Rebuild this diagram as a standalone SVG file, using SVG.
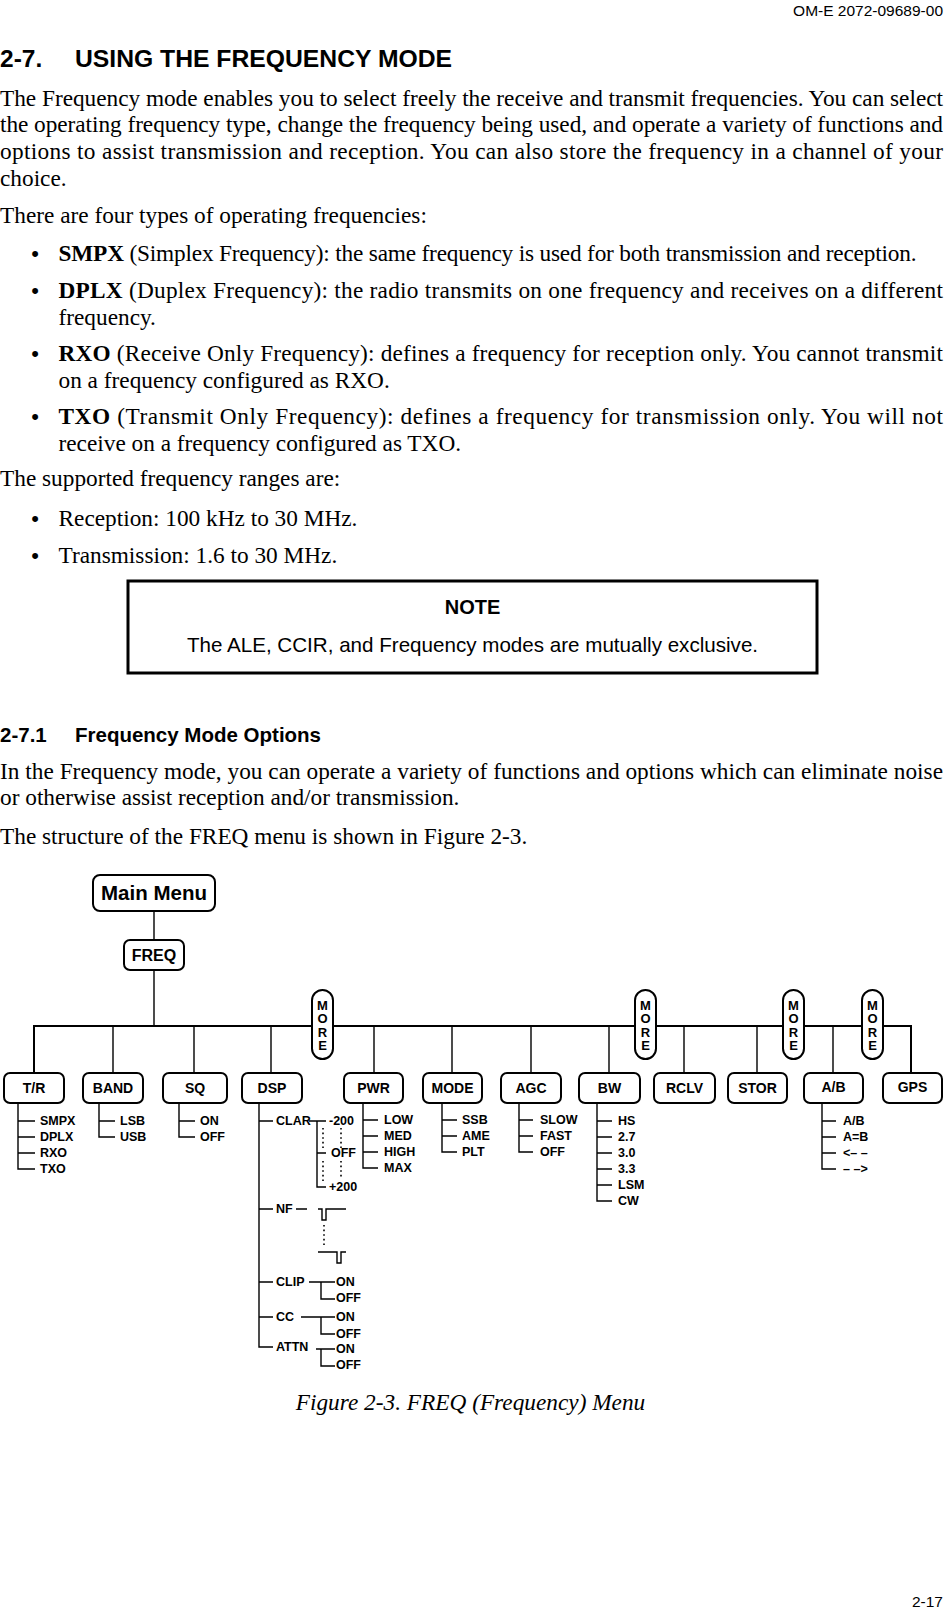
<svg xmlns="http://www.w3.org/2000/svg" width="945" height="1611" viewBox="0 0 945 1611">
<style>
.b{font-family:"Liberation Serif","Times New Roman",serif;font-size:23.3px;fill:#000}
.bul{font-family:"Liberation Sans",Arial,sans-serif;font-size:22px;text-anchor:middle;fill:#000}
.h{font-family:"Liberation Sans",Arial,sans-serif;fill:#000}
.bx{fill:#fff;stroke:#000;stroke-width:2}
.ln{fill:none;stroke:#000;stroke-width:1.4}
.bus{fill:none;stroke:#000;stroke-width:2}
.dot{fill:none;stroke:#000;stroke-width:1.6;stroke-dasharray:1.6 3}
.t{font-family:"Liberation Sans",Arial,sans-serif;font-weight:bold;font-size:14px;text-anchor:middle}
.o{font-family:"Liberation Sans",Arial,sans-serif;font-weight:bold;font-size:12.5px}
.m{font-family:"Liberation Sans",Arial,sans-serif;font-weight:bold;font-size:13px;text-anchor:middle}
</style>
<rect width="945" height="1611" fill="#fff"/>

<g id="page-text">
<text class="h" x="943" y="16" font-size="15.5" text-anchor="end">OM-E 2072-09689-00</text>
<text class="h" x="0" y="67" font-size="24.5" font-weight="bold">2-7.</text>
<text class="h" x="75" y="67" font-size="24.5" font-weight="bold" textLength="377" lengthAdjust="spacingAndGlyphs">USING THE FREQUENCY MODE</text>
<text class="b" x="0" y="105.5" textLength="943" lengthAdjust="spacing">The Frequency mode enables you to select freely the receive and transmit frequencies. You can select</text>
<text class="b" x="0" y="132" textLength="943" lengthAdjust="spacing">the operating frequency type, change the frequency being used, and operate a variety of functions and</text>
<text class="b" x="0" y="159" textLength="943" lengthAdjust="spacing">options to assist transmission and reception. You can also store the frequency in a channel of your</text>
<text class="b" x="0" y="185.5">choice.</text>
<text class="b" x="0" y="223">There are four types of operating frequencies:</text>
<text class="bul" x="35" y="261">•</text>
<text class="b" x="58.5" y="261" textLength="858" lengthAdjust="spacing"><tspan font-weight="bold">SMPX</tspan> (Simplex Frequency): the same frequency is used for both transmission and reception.</text>
<text class="bul" x="35" y="298">•</text>
<text class="b" x="58.5" y="298" textLength="884.5" lengthAdjust="spacing"><tspan font-weight="bold">DPLX</tspan> (Duplex Frequency): the radio transmits on one frequency and receives on a different</text>
<text class="b" x="58.5" y="324.5">frequency.</text>
<text class="bul" x="35" y="361">•</text>
<text class="b" x="58.5" y="361" textLength="884.5" lengthAdjust="spacing"><tspan font-weight="bold">RXO</tspan> (Receive Only Frequency): defines a frequency for reception only. You cannot transmit</text>
<text class="b" x="58.5" y="388">on a frequency configured as RXO.</text>
<text class="bul" x="35" y="424">•</text>
<text class="b" x="58.5" y="424" textLength="884.5" lengthAdjust="spacing"><tspan font-weight="bold">TXO</tspan> (Transmit Only Frequency): defines a frequency for transmission only. You will not</text>
<text class="b" x="58.5" y="451">receive on a frequency configured as TXO.</text>
<text class="b" x="0" y="485.5">The supported frequency ranges are:</text>
<text class="bul" x="35" y="526">•</text>
<text class="b" x="58.5" y="526">Reception: 100 kHz to 30 MHz.</text>
<text class="bul" x="35" y="563">•</text>
<text class="b" x="58.5" y="563">Transmission: 1.6 to 30 MHz.</text>
</g>

<g id="note">
<rect x="128" y="581" width="689" height="92" fill="#fff" stroke="#000" stroke-width="3"/>
<text class="h" x="472.5" y="614" font-size="20" font-weight="bold" text-anchor="middle">NOTE</text>
<text class="h" x="472.5" y="652" font-size="20.6" text-anchor="middle">The ALE, CCIR, and Frequency modes are mutually exclusive.</text>
</g>

<g id="section-text">
<text class="h" x="0" y="742" font-size="20.5" font-weight="bold">2-7.1</text>
<text class="h" x="75" y="742" font-size="20.5" font-weight="bold">Frequency Mode Options</text>
<text class="b" x="0" y="779" textLength="943" lengthAdjust="spacing">In the Frequency mode, you can operate a variety of functions and options which can eliminate noise</text>
<text class="b" x="0" y="805">or otherwise assist reception and/or transmission.</text>
<text class="b" x="0" y="844">The structure of the FREQ menu is shown in Figure 2-3.</text>
</g>

<g id="connectors">
<path class="ln" d="M154 911V940M154 970V1026"/>
<path class="bus" d="M34 1073V1026H911V1073"/>
<path class="ln" d="M113 1026V1073M194 1026V1073M271 1026V1073M374 1026V1073M452 1026V1073M531 1026V1073M609 1026V1073M684 1026V1073M757 1026V1073M833 1026V1073"/>
<path class="ln" d="M18 1103V1169H35M18 1121H35M18 1137H35M18 1153H35"/>
<path class="ln" d="M99 1103V1137H115M99 1121H115"/>
<path class="ln" d="M179 1103V1137H195M179 1121H195"/>
<path class="ln" d="M259 1103V1347H273M259 1121H273M259 1209H273M259 1282H273M259 1317H273"/>
<path class="ln" d="M309 1121H326M317 1121V1187H326M317 1153H326"/>
<path class="dot" d="M323 1128V1148M323 1161V1181M341 1128V1148M341 1161V1179"/>
<path class="ln" d="M296 1209H307M318 1209H322V1220H326V1209H346M318 1252H337V1263H341V1252H346"/>
<path class="dot" d="M324 1225V1247"/>
<path class="ln" d="M309 1282H335M321 1282V1299H335M301 1317H335M321 1317V1334H335M316 1349H335M321 1349V1366H335"/>
<path class="ln" d="M363 1103V1168H378M363 1120H378M363 1136H378M363 1152H378"/>
<path class="ln" d="M442 1103V1152H457M442 1120H457M442 1136H457"/>
<path class="ln" d="M519 1103V1152H533M519 1120H533M519 1136H533"/>
<path class="ln" d="M597 1103V1201H612M597 1121H612M597 1137H612M597 1153H612M597 1169H612M597 1185H612"/>
<path class="ln" d="M822 1103V1169H836M822 1121H836M822 1137H836M822 1153H836"/>
</g>

<g id="main-menu"><rect class="bx" x="93" y="875" width="122" height="36" rx="7"/><text class="h" x="154" y="900" font-size="20.5" font-weight="bold" text-anchor="middle">Main Menu</text></g>
<g id="freq"><rect class="bx" x="124" y="940" width="60" height="30" rx="6"/><text class="h" x="154" y="961" font-size="16" font-weight="bold" text-anchor="middle">FREQ</text></g>

<g id="more1"><rect class="bx" x="312" y="990" width="21" height="69" rx="10.5"/><text class="m" x="322.5" y="1010">M</text><text class="m" x="322.5" y="1023">O</text><text class="m" x="322.5" y="1037">R</text><text class="m" x="322.5" y="1050">E</text></g>
<g id="more2"><rect class="bx" x="635" y="990" width="21" height="69" rx="10.5"/><text class="m" x="645.5" y="1010">M</text><text class="m" x="645.5" y="1023">O</text><text class="m" x="645.5" y="1037">R</text><text class="m" x="645.5" y="1050">E</text></g>
<g id="more3"><rect class="bx" x="783" y="990" width="21" height="69" rx="10.5"/><text class="m" x="793.5" y="1010">M</text><text class="m" x="793.5" y="1023">O</text><text class="m" x="793.5" y="1037">R</text><text class="m" x="793.5" y="1050">E</text></g>
<g id="more4"><rect class="bx" x="862" y="990" width="21" height="69" rx="10.5"/><text class="m" x="872.5" y="1010">M</text><text class="m" x="872.5" y="1023">O</text><text class="m" x="872.5" y="1037">R</text><text class="m" x="872.5" y="1050">E</text></g>

<g id="tr"><rect class="bx" x="4" y="1073" width="60" height="30" rx="6"/><text class="t" x="34" y="1093">T/R</text>
<text class="o" x="40" y="1125">SMPX</text><text class="o" x="40" y="1141">DPLX</text><text class="o" x="40" y="1157">RXO</text><text class="o" x="40" y="1173">TXO</text></g>
<g id="band"><rect class="bx" x="83" y="1073" width="60" height="30" rx="6"/><text class="t" x="113" y="1093">BAND</text>
<text class="o" x="120" y="1125">LSB</text><text class="o" x="120" y="1141">USB</text></g>
<g id="sq"><rect class="bx" x="163" y="1073" width="64" height="30" rx="6"/><text class="t" x="195" y="1093">SQ</text>
<text class="o" x="200" y="1125">ON</text><text class="o" x="200" y="1141">OFF</text></g>
<g id="dsp"><rect class="bx" x="242" y="1073" width="60" height="30" rx="6"/><text class="t" x="272" y="1093">DSP</text>
<text class="o" x="276" y="1125">CLAR</text><text class="o" x="329" y="1125">-200</text><text class="o" x="331" y="1157">OFF</text><text class="o" x="329" y="1191">+200</text>
<text class="o" x="276" y="1213">NF</text>
<text class="o" x="276" y="1286">CLIP</text><text class="o" x="336" y="1286">ON</text><text class="o" x="336" y="1302">OFF</text>
<text class="o" x="276" y="1321">CC</text><text class="o" x="336" y="1321">ON</text><text class="o" x="336" y="1338">OFF</text>
<text class="o" x="276" y="1351">ATTN</text><text class="o" x="336" y="1353">ON</text><text class="o" x="336" y="1369">OFF</text></g>
<g id="pwr"><rect class="bx" x="344" y="1073" width="59" height="30" rx="6"/><text class="t" x="373.5" y="1093">PWR</text>
<text class="o" x="384" y="1124">LOW</text><text class="o" x="384" y="1140">MED</text><text class="o" x="384" y="1156">HIGH</text><text class="o" x="384" y="1172">MAX</text></g>
<g id="mode"><rect class="bx" x="423" y="1073" width="59" height="30" rx="6"/><text class="t" x="452.5" y="1093">MODE</text>
<text class="o" x="462" y="1124">SSB</text><text class="o" x="462" y="1140">AME</text><text class="o" x="462" y="1156">PLT</text></g>
<g id="agc"><rect class="bx" x="501" y="1073" width="60" height="30" rx="6"/><text class="t" x="531" y="1093">AGC</text>
<text class="o" x="540" y="1124">SLOW</text><text class="o" x="540" y="1140">FAST</text><text class="o" x="540" y="1156">OFF</text></g>
<g id="bw"><rect class="bx" x="579" y="1073" width="61" height="30" rx="6"/><text class="t" x="609.5" y="1093">BW</text>
<text class="o" x="618" y="1125">HS</text><text class="o" x="618" y="1141">2.7</text><text class="o" x="618" y="1157">3.0</text><text class="o" x="618" y="1173">3.3</text><text class="o" x="618" y="1189">LSM</text><text class="o" x="618" y="1205">CW</text></g>
<g id="rclv"><rect class="bx" x="654" y="1073" width="61" height="30" rx="6"/><text class="t" x="684.5" y="1093">RCLV</text></g>
<g id="stor"><rect class="bx" x="728" y="1073" width="59" height="30" rx="6"/><text class="t" x="757.5" y="1093">STOR</text></g>
<g id="ab"><rect class="bx" x="804" y="1073" width="59" height="30" rx="6"/><text class="t" x="833.5" y="1092">A/B</text>
<text class="o" x="843" y="1125">A/B</text><text class="o" x="843" y="1141">A=B</text><text class="o" x="843" y="1157">&lt;– –</text><text class="o" x="843" y="1173">– –&gt;</text></g>
<g id="gps"><rect class="bx" x="883" y="1073" width="59" height="30" rx="6"/><text class="t" x="912.5" y="1092">GPS</text></g>

<g id="caption">
<text class="b" x="470.5" y="1410" font-style="italic" text-anchor="middle">Figure 2-3. FREQ (Frequency) Menu</text>
<text class="h" x="943" y="1607" font-size="15.5" text-anchor="end">2-17</text>
</g>
</svg>
